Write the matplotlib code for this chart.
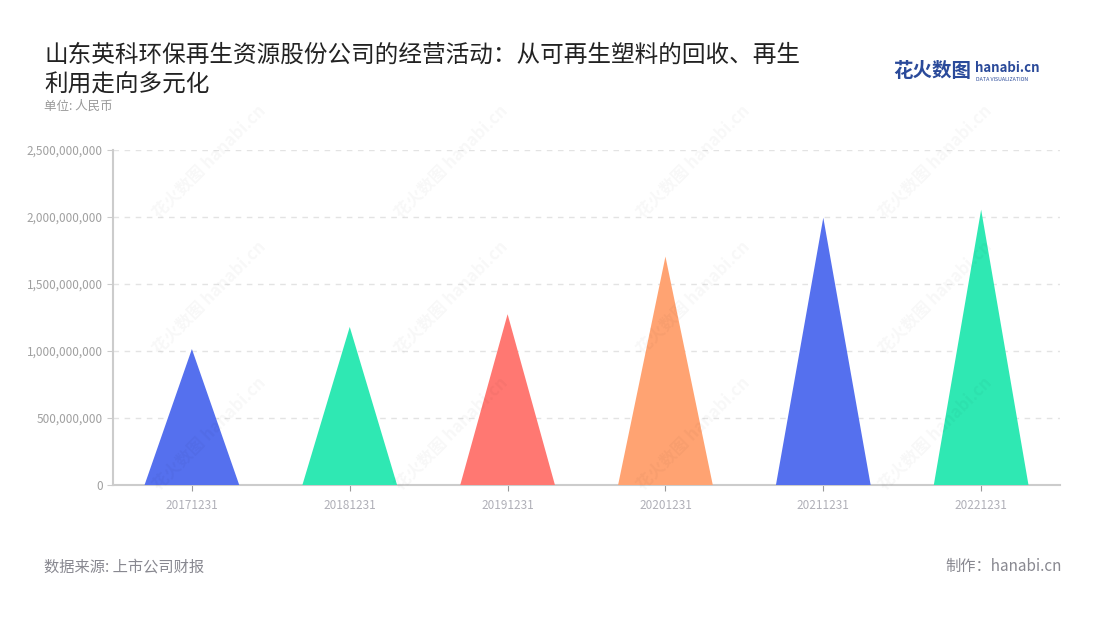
import matplotlib
matplotlib.use("Agg")
import matplotlib.pyplot as plt
from matplotlib.ticker import FuncFormatter

plt.rcParams['font.family'] = ['Noto Sans CJK SC', 'DejaVu Sans']

# ---- data ----
dates = ["20171231", "20181231", "20191231", "20201231", "20211231", "20221231"]
revenue = [1.015e9, 1.18e9, 1.275e9, 1.705e9, 1.995e9, 2.055e9]
colors = ["#5570EE", "#2FE8B3", "#FF7872", "#FFA372", "#5570EE", "#2FE8B3"]

title = "山东英科环保再生资源股份公司的经营活动：从可再生塑料的回收、再生\n利用走向多元化"
unit = "单位: 人民币"
source = "数据来源: 上市公司财报"
maker = "制作：hanabi.cn"

fig = plt.figure(figsize=(11, 6.2), dpi=100)
ax = fig.add_axes([0.1027, 0.2177, 0.861, 0.5403])

# faint watermarks
for wx in [0.19, 0.41, 0.63, 0.85]:
    for wy in [0.74, 0.52, 0.30]:
        fig.text(wx, wy, "花火数图 hanabi.cn", rotation=45, fontsize=12,
                 color="#000000", alpha=0.03, ha="center", va="center",
                 fontweight="bold", zorder=0)

# triangles
half = 0.3
for i, (v, c) in enumerate(zip(revenue, colors)):
    ax.fill([i - half, i, i + half], [0, v, 0], color=c, lw=0, zorder=3)

ax.set_xlim(-0.5, len(dates) - 0.5)
ax.set_ylim(0, 2.5e9)
ax.set_yticks([0, 5e8, 1e9, 1.5e9, 2e9, 2.5e9])
ax.yaxis.set_major_formatter(FuncFormatter(lambda v, p: f"{int(v):,}"))
ax.set_xticks(range(len(dates)))
ax.set_xticklabels(dates)

ax.grid(axis="y", color="#e3e3e3", linestyle=(0, (4, 4)), lw=1)
ax.set_axisbelow(True)
for s in ["top", "right"]:
    ax.spines[s].set_visible(False)
ax.spines["left"].set_color("#cccccc")
ax.spines["bottom"].set_color("#cccccc")
ax.spines["left"].set_linewidth(1.5)
ax.spines["bottom"].set_linewidth(1.5)
ax.tick_params(axis="y", colors="#cccccc", labelcolor="#a0a0a0", labelsize=8.5, length=4)
ax.tick_params(axis="x", colors="#999999", labelcolor="#b0b0b8", labelsize=8.5, length=4, pad=6)

# texts
fig.text(0.04, 0.93, title, fontsize=17, color="#222222", ha="left", va="top",
         linespacing=1.38)
fig.text(0.04, 0.828, unit, fontsize=9, color="#999999", ha="left", va="center")
fig.text(0.04, 0.086, source, fontsize=11, color="#888890", ha="left", va="center")
fig.text(0.965, 0.086, maker, fontsize=11, color="#888890", ha="right", va="center")

# logo
fig.text(0.812, 0.884, "花火数图", fontsize=14, color="#2a4a9a", ha="left", va="center",
         fontweight="bold")
fig.text(0.886, 0.890, "hanabi.cn", fontsize=9.5, color="#2a4a9a", ha="left", va="center",
         fontweight="bold")
fig.text(0.887, 0.871, "DATA VISUALIZATION", fontsize=3.8, color="#2a4a9a", ha="left",
         va="center")

fig.savefig("out.png", dpi=100)
